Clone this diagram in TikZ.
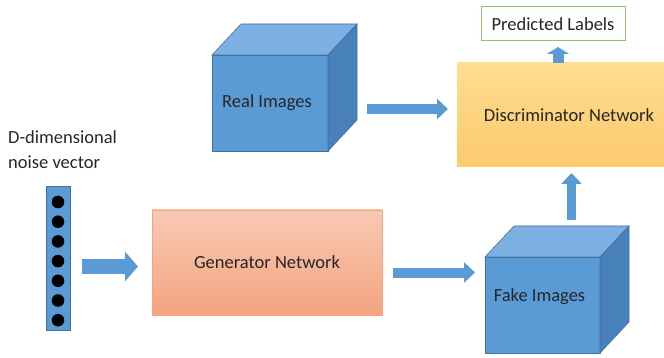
\documentclass[tikz,border=0pt]{standalone}
\usepackage{fontspec}
\setmainfont{Carlito}
\usepackage{xcolor}
\usepackage{tikz}
\usetikzlibrary{arrows.meta, positioning}

\definecolor{cubefront}{RGB}{91,155,213}
\definecolor{cubetopc}{RGB}{125,176,226}
\definecolor{cubesidec}{RGB}{72,128,186}
\definecolor{cubeline}{RGB}{65,113,156}
\definecolor{genlight}{RGB}{249,200,180}
\definecolor{gendark}{RGB}{244,164,128}
\definecolor{disclight}{RGB}{255,221,146}
\definecolor{discdark}{RGB}{251,202,108}
\definecolor{predgreen}{RGB}{140,196,112}

\tikzset{
    txt/.style={font=\fontsize{18.5}{25}\selectfont, text=black!85},
    netbox/.style={txt, rectangle, inner sep=0pt, outer sep=0pt},
    cube/.style={netbox, fill=cubefront, draw=cubeline, line width=0.6pt},
    cubetop/.style={fill=cubetopc, draw=cubeline, line width=0.6pt},
    cubeside/.style={fill=cubesidec, draw=cubeline, line width=0.6pt},
    blockarrow/.style={cubefront, line width=10pt, -{Triangle[length=11pt, width=20pt]}},
}

\begin{document}
\begin{tikzpicture}[x=1pt, y=-1pt]
    \useasboundingbox (0,0) rectangle (664,358);

    % input noise column
    \node (label) [txt, anchor=west, align=left, inner sep=0pt] at (8,150) {D-dimensional\\noise vector};
    \node (noise) [netbox, fill=cubefront, draw=cubeline, line width=0.6pt,
        minimum width=24pt, minimum height=144pt] at (58,258) {};
    \foreach \i in {0,...,6}
        \fill (58,202+19.7*\i) circle (6.3);

    % networks (the discriminator runs off the right edge)
    \node (gen) [netbox, top color=genlight, bottom color=gendark, draw=gendark,
        minimum width=230pt, minimum height=105pt] at (267,262.5) {Generator Network};
    \node (disc) [netbox, top color=disclight, bottom color=discdark,
        minimum width=224pt, minimum height=104pt] at (569,115) {Discriminator Network};
    \node (pred) [netbox, draw=predgreen, line width=1pt, fill=white,
        minimum width=144pt, minimum height=34pt, above=22pt of disc, xshift=-16pt] {Predicted Labels};

    % image stacks
    \node (real) [cube, minimum width=116pt, minimum height=96pt] at (270,103) {};
    \node (fake) [cube, minimum width=115pt, minimum height=96pt] at (542.5,305) {};
    \foreach \c in {real,fake} {
        \filldraw[cubetop] (\c.north west) -- ([shift={(29,-31)}]\c.north west)
            -- ([shift={(29,-31)}]\c.north east) -- (\c.north east) -- cycle;
        \filldraw[cubeside] (\c.north east) -- ([shift={(29,-31)}]\c.north east)
            -- ([shift={(29,-31)}]\c.south east) -- (\c.south east) -- cycle;
    }
    \node [txt] at ([xshift=-3pt]real.center) {Real Images};
    \node [txt] at ([shift={(-3,-8)}]fake.center) {Fake Images};

    % back faces of the stacks, where the arrows leave
    \coordinate (realback) at ([shift={(29,6)}]real.east);
    \coordinate (fakeback) at ([shift={(29,-31)}]fake.north);
    \coordinate (predfoot) at ([xshift=5pt]pred.south);

    % flow
    \draw[blockarrow, line width=15pt, -{Triangle[length=13pt, width=29pt]}, shorten <=12pt, shorten >=14pt]
        ([yshift=-4pt]gen.west -| noise.east) -- ([yshift=-4pt]gen.west);
    \draw[blockarrow, shorten <=11pt, shorten >=10pt]
        ([yshift=-10pt]gen.east) -- ([yshift=-10pt]gen.east -| fake.west);
    \draw[blockarrow, shorten <=10pt, shorten >=9pt]
        (realback) -- (realback -| disc.west);
    \draw[blockarrow, line width=9pt, shorten <=6pt, shorten >=6pt]
        (fakeback) -- (fakeback |- disc.south);
    \draw[blockarrow, line width=11pt, -{Triangle[length=7pt, width=22pt]}, shorten >=6pt]
        (predfoot |- disc.north) -- (predfoot);
\end{tikzpicture}
\end{document}
